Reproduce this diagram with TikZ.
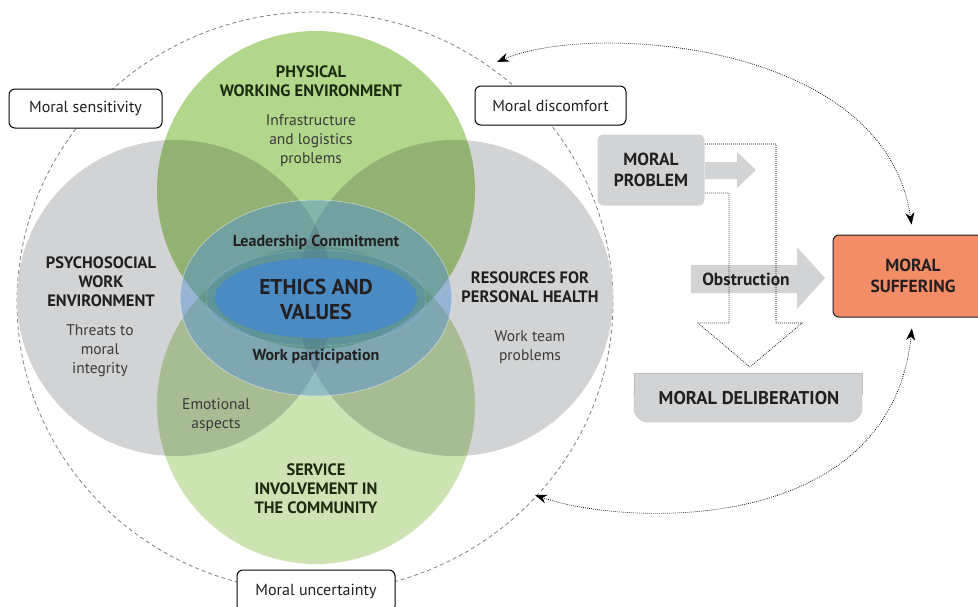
\documentclass[tikz,border=0pt]{standalone}
\usepackage{fontspec}
\setmainfont{PT Sans}
\usepackage{tikz}
\usetikzlibrary{positioning}
\usetikzlibrary{arrows.meta,shapes,calc,backgrounds}
\usepackage{xcolor}

\definecolor{greentop}{HTML}{B3D78A}
\definecolor{greenbot}{HTML}{CDE4B2}
\definecolor{greycirc}{HTML}{D1D3D4}
\definecolor{delibedge}{HTML}{BCBEC0}
\definecolor{bluering}{HTML}{4F8FD6}
\definecolor{bluecore}{HTML}{4A8BC4}
\definecolor{suffer}{HTML}{F38D68}
\definecolor{darktext}{HTML}{231F20}
\definecolor{greentext}{HTML}{1B2A10}
\definecolor{softtext}{HTML}{3A3A3A}

\tikzset{
  moralbox/.style={draw=black, fill=white, rounded corners=6pt, line width=1pt, minimum width=153pt, minimum height=39pt, font=\fontsize{16}{19}\selectfont, text=darktext},
  areatitle/.style={align=center, font=\bfseries\fontsize{16.5}{19}\selectfont, text=darktext},
  areanote/.style={align=center, font=\fontsize{15.5}{19}\selectfont, text=softtext},
  ringtext/.style={font=\bfseries\fontsize{16}{18}\selectfont, text=darktext},
  greybox/.style={fill=greycirc, rounded corners=6pt, align=center, font=\bfseries\fontsize{17.5}{21}\selectfont, text=darktext},
  dotline/.style={line width=0.7pt, dash pattern=on 0.8pt off 1.2pt, black},
  twohead/.style={dotline, {Stealth[length=12pt,width=9pt]}-{Stealth[length=12pt,width=9pt]}}
}

\begin{document}
\begin{tikzpicture}[x=1pt, y=-1pt]

\useasboundingbox (0,0) rectangle (978,606);

\draw[gray, line width=0.8pt, dash pattern=on 4pt off 3pt] (315,302) ellipse [x radius=298, y radius=290];

\begin{scope}[blend group=multiply]
\fill[greentop] (316,190) circle [radius=159];
\fill[greenbot] (316,405) circle [radius=159];
\fill[greycirc] (175,298) circle [radius=158];
\fill[greycirc] (455,298) circle [radius=158];
\end{scope}

\filldraw[fill=bluering, fill opacity=0.45, draw=white, draw opacity=0.6, line width=0.5pt] (316,298) ellipse [x radius=136, y radius=98];

\filldraw[fill=bluering, fill opacity=0.18, draw=white, draw opacity=0.25, line width=0.4pt] (316,298) ellipse [x radius=110, y radius=48];

\fill[bluecore] (316,298) ellipse [x radius=101, y radius=40];

\node[areatitle, text=greentext] (physical) at (311,81) {PHYSICAL\\WORKING ENVIRONMENT};
\node[areanote] (infra) at (311,141) {Infrastructure\\and logistics\\problems};

\node[areatitle] (psycho) at (101,282) {PSYCHOSOCIAL\\WORK\\ENVIRONMENT};
\node[areanote] (threats) at (100,351) {Threats to\\moral\\integrity};

\node[areatitle] (resources) at (530,287) {RESOURCES FOR\\PERSONAL HEALTH};
\node[areanote] (teamprob) at (530,347) {Work team\\problems};

\node[areanote] (emotion) at (216,415) {Emotional\\aspects};
\node[areatitle, text=greentext] (service) at (316,489) {SERVICE\\INVOLVEMENT IN\\THE COMMUNITY};

\node[ringtext] (leader) at (316,242) {Leadership Commitment};
\node[ringtext] (workpart) at (316,356) {Work participation};
\node[align=center, font=\bfseries\fontsize{21.5}{25}\selectfont, text=darktext] (ethics) at (316,299) {ETHICS AND\\VALUES};

\node[moralbox] (sensitivity) at (85.5,108.5) {Moral sensitivity};
\node[moralbox, minimum width=151pt] (discomfort) at (550.5,105.5) {Moral discomfort};
\node[moralbox, minimum width=158pt, minimum height=42pt] (uncertainty) at (316,591) {Moral uncertainty};

\node[greybox, minimum width=107pt, minimum height=71pt] (problem) at (651,170) {MORAL\\PROBLEM};

\fill[greycirc] (705,162) -- (737,162) -- (737,152) -- (756,170) -- (737,188) -- (737,179) -- (705,179) -- cycle;

\fill[greycirc] (691,265) -- (797,265) -- (797,247) -- (825,278) -- (797,309) -- (797,293) -- (691,293) -- cycle;

\draw[dotline] (705,144) -- (776,144) -- (776,323) -- (802,323) -- (750,367) -- (698,323) -- (729,323) -- (729,193) -- (705,193);

\node[font=\bfseries\fontsize{17.5}{18}\selectfont, text=darktext] (obstr) at (746,279) {Obstruction};

\filldraw[fill=greycirc, draw=delibedge, rounded corners=14pt] (634,373) rectangle (862,422);
\fill[greycirc] (634,373) rectangle (862,395);
\draw[delibedge] (634,395) -- (634,373) -- (862,373) -- (862,395);
\node[font=\bfseries\fontsize{18.5}{20}\selectfont, text=darktext] (delib) at (749,398) {MORAL DELIBERATION};

\node[draw=darktext, fill=suffer, rounded corners=6pt, line width=1pt, minimum width=160pt, minimum height=82pt, align=center, font=\bfseries\fontsize{17.5}{21}\selectfont, text=darktext] (suffering) at (913,276) {MORAL\\SUFFERING};

\coordinate (topend) at (497,62);
\coordinate (botend) at (535,495);

\draw[twohead, shorten >=10pt] (topend) .. controls (590,22) and (885,40) .. (suffering.north);

\draw[twohead, shorten >=11pt] (botend) .. controls (620,525) and (890,540) .. (suffering.south);

\end{tikzpicture}
\end{document}
